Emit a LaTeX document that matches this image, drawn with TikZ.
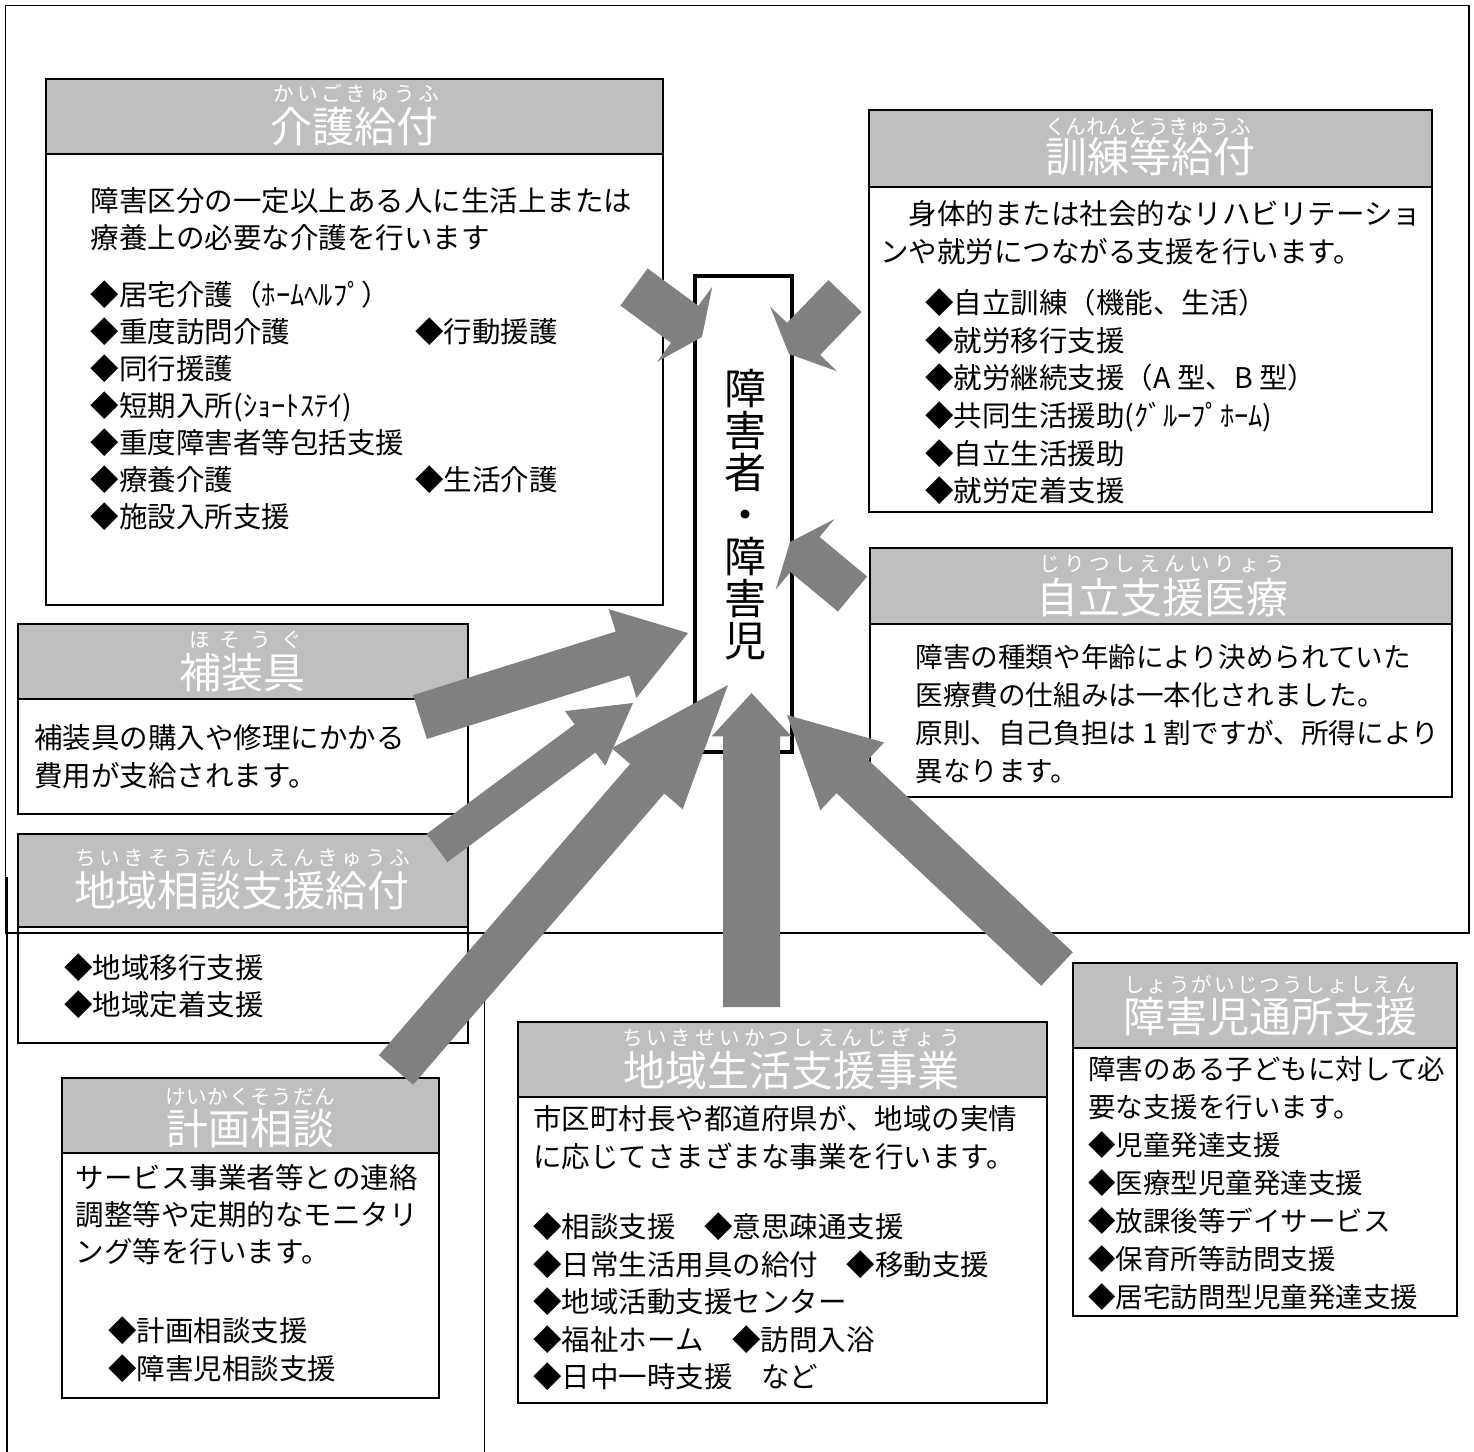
\documentclass[tikz,border=0pt]{standalone}
\usepackage{fontspec}
\setmainfont{Noto Sans CJK JP}
\usetikzlibrary{calc}
\definecolor{hdrgray}{RGB}{191,191,191}
\definecolor{arwgray}{RGB}{128,128,128}
\newcommand\rsp{\hfill}
\newcommand\zs{\rule[-0.12em]{0pt}{1em}}
% #1 tail coord, #2 tip coord, #3 half shaft width, #4 half head width, #5 head length
\newcommand\blockarrow[5]{%
  \coordinate (ab) at ($(#2)!#5!(#1)$);
  \fill[arwgray] ($(#1)!#3!90:(#2)$) -- ($(ab)!#3!90:(#2)$) -- ($(ab)!#4!90:(#2)$) -- (#2)
    -- ($(ab)!#4!-90:(#2)$) -- ($(ab)!#3!-90:(#2)$) -- ($(#1)!#3!-90:(#2)$) -- cycle;}
\newcommand\infobox[5]{%
  \fill[hdrgray] (#1,#2) rectangle (#3,#4);
  \draw[boxline] (#1,#2) rectangle (#3,#5);
  \draw[boxline] (#1,#4) -- (#3,#4);}
\tikzset{
  frameline/.style={line width=0.75pt, black},
  boxline/.style={line width=1.3pt, black},
  bodytxt/.style={anchor=north west, inner sep=0pt, align=left, font=\fontsize{14.25pt}{#1}\selectfont},
  bodytxt/.default=18.75pt,
  rubytxt/.style={anchor=base, inner sep=0pt, text=white, font=\fontsize{10.3pt}{10.3pt}\selectfont},
  titletxt/.style={anchor=base, inner sep=0pt, text=white, font=\fontsize{21pt}{21pt}\selectfont},
  centerbox/.style={line width=2.25pt, black},
}
\begin{document}
\begin{tikzpicture}[x=0.5pt,y=-0.5pt]
\useasboundingbox (0,0) rectangle (1474,1452);
% frame
\draw[frameline] (5.5,5.5) rectangle (1469,933);
\draw[frameline] (7,877) -- (7,1452);
\draw[frameline] (484.7,933) -- (484.7,1452);
% boxes
\infobox{46}{79}{663}{154}{605}
\infobox{869}{110}{1432}{187}{512}
\infobox{870}{548}{1452}{624}{797}
\infobox{18}{624}{468}{699}{814}
\infobox{18}{834}{468}{927}{1043}
\infobox{62}{1078}{439}{1153}{1398}
\infobox{518}{1022}{1047}{1097}{1403}
\infobox{1073}{963}{1457}{1048}{1316}
% rubies
\node[rubytxt] (r-kaigo) at (356,101.5) {\makebox[83pt]{か\rsp い\rsp ご\rsp き\rsp ゅ\rsp う\rsp ふ}};
\node[rubytxt] (r-kunren) at (1148,134) {\makebox[101.5pt]{く\rsp ん\rsp れ\rsp ん\rsp と\rsp う\rsp き\rsp ゅ\rsp う\rsp ふ}};
\node[rubytxt] (r-jiritsu) at (1162.5,571.5) {\makebox[123pt]{じ\rsp り\rsp つ\rsp し\rsp え\rsp ん\rsp い\rsp り\rsp ょ\rsp う}};
\node[rubytxt] (r-hosougu) at (245.5,647.5) {\makebox[56.5pt]{ほ\rsp そ\rsp う\rsp ぐ}};
\node[rubytxt] (r-soudan) at (243,865.5) {\makebox[167.5pt]{ち\rsp い\rsp き\rsp そ\rsp う\rsp だ\rsp ん\rsp し\rsp え\rsp ん\rsp き\rsp ゅ\rsp う\rsp ふ}};
\node[rubytxt] (r-keikaku) at (250,1104.5) {\makebox[85pt]{け\rsp い\rsp か\rsp く\rsp そ\rsp う\rsp だ\rsp ん}};
\node[rubytxt] (r-seikatsu) at (791,1045.5) {\makebox[169pt]{ち\rsp い\rsp き\rsp せ\rsp い\rsp か\rsp つ\rsp し\rsp え\rsp ん\rsp じ\rsp ぎ\rsp ょ\rsp う}};
\node[rubytxt] (r-jidou) at (1270,992.5) {\makebox[146pt]{し\rsp ょ\rsp う\rsp が\rsp い\rsp じ\rsp つ\rsp う\rsp し\rsp ょ\rsp し\rsp え\rsp ん}};
% titles
\node[titletxt] (t-kaigo) at (354.5,142) {介護給付};
\node[titletxt] (t-kunren) at (1150,172) {訓練等給付};
\node[titletxt] (t-jiritsu) at (1162,613) {自立支援医療};
\node[titletxt] (t-hosougu) at (242,688) {補装具};
\node[titletxt] (t-soudan) at (242,906) {地域相談支援給付};
\node[titletxt] (t-keikaku) at (250,1144) {計画相談};
\node[titletxt] (t-seikatsu) at (791,1086) {地域生活支援事業};
\node[titletxt] (t-jidou) at (1270,1032) {障害児通所支援};
% body texts
\node[bodytxt] (kaigo-desc) at (90.5,185.75) {\zs 障害区分の一定以上ある人に生活上または\\療養上の必要な介護を行います};
\node[bodytxt=18.5pt] (kaigo-list) at (90.5,280.35) {\zs ◆居宅介護（ﾎｰﾑﾍﾙﾌﾟ）\\\makebox[162.25pt][l]{◆重度訪問介護}◆行動援護\\◆同行援護\\◆短期入所(ｼｮｰﾄｽﾃｲ)\\◆重度障害者等包括支援\\\makebox[162.25pt][l]{◆療養介護}◆生活介護\\◆施設入所支援};
\node[bodytxt=19pt] (kunren-desc) at (880,199.25) {\zs 　身体的または社会的なリハビリテーショ\\ンや就労につながる支援を行います。};
\node[bodytxt=18.8pt] (kunren-list) at (925,288.25) {\zs ◆自立訓練（機能、生活）\\◆就労移行支援\\◆就労継続支援（A 型、B 型）\\◆共同生活援助(ｸﾞﾙｰﾌﾟﾎｰﾑ)\\◆自立生活援助\\◆就労定着支援};
\node[bodytxt, font=\fontsize{13.8pt}{18.9pt}\selectfont] (jiritsu-desc) at (915,643.2) {\zs 障害の種類や年齢により決められていた\\医療費の仕組みは一本化されました。\\原則、自己負担は 1 割ですが、所得により\\異なります。};
\node[bodytxt=19pt] (hosougu-desc) at (34,722.75) {\zs 補装具の購入や修理にかかる\\費用が支給されます。};
\node[bodytxt=18.5pt] (soudan-list) at (64,952.75) {\zs ◆地域移行支援\\◆地域定着支援};
\node[bodytxt=18.5pt] (keikaku-desc) at (75.5,1162.75) {\zs サービス事業者等との連絡\\調整等や定期的なモニタリ\\ング等を行います。};
\node[bodytxt=19pt] (keikaku-list) at (107.6,1315.75) {\zs ◆計画相談支援\\◆障害児相談支援};
\node[bodytxt=19.25pt] (seikatsu-desc) at (533,1103.75) {\zs 市区町村長や都道府県が、地域の実情\\に応じてさまざまな事業を行います。};
\node[bodytxt=18.75pt] (seikatsu-list) at (533,1212.25) {\zs ◆相談支援　◆意思疎通支援\\◆日常生活用具の給付　◆移動支援\\◆地域活動支援センター\\◆福祉ホーム　◆訪問入浴\\◆日中一時支援　など};
\node[bodytxt, font=\fontsize{13.75pt}{19pt}\selectfont] (jidou-desc) at (1088,1055.25) {\zs 障害のある子どもに対して必\\要な支援を行います。\\◆児童発達支援\\◆医療型児童発達支援\\◆放課後等デイサービス\\◆保育所等訪問支援\\◆居宅訪問型児童発達支援};
% centre box
\draw[centerbox] (695,276) rectangle (792,752);
\node[inner sep=0pt, align=center, font=\fontsize{21pt}{21pt}\selectfont] (who) at (745,515) {障\\害\\者\\・\\障\\害\\児};
% arrow end points
\coordinate (a1s) at (634,287);   \coordinate (a1e) at (702,337);
\coordinate (a2s) at (845,296);   \coordinate (a2e) at (789,354);
\coordinate (a3s) at (852.5,594); \coordinate (a3e) at (790,542);
\coordinate (a4s) at (420,717);   \coordinate (a4e) at (688,633);
\coordinate (a5s) at (437,848);   \coordinate (a5e) at (633,703);
\coordinate (a6s) at (396,1070);  \coordinate (a6e) at (728,685);
\coordinate (a7s) at (751.6,1007); \coordinate (a7e) at (751.6,693);
\coordinate (a8s) at (1057,969);  \coordinate (a8e) at (787,715);
% arrows
\blockarrow{a1s}{a1e}{11.5pt}{23.25pt}{10.75pt}
\blockarrow{a2s}{a2e}{11.5pt}{23.25pt}{10.5pt}
\blockarrow{a3s}{a3e}{11.4pt}{23pt}{9.75pt}
\blockarrow{a4s}{a4e}{11.5pt}{23.25pt}{34.3pt}
\blockarrow{a5s}{a5e}{8.75pt}{17pt}{29.8pt}
\blockarrow{a6s}{a6e}{11.3pt}{23.4pt}{61.85pt}
\blockarrow{a7s}{a7e}{14.25pt}{20pt}{21.7pt}
\blockarrow{a8s}{a8e}{11.5pt}{23.25pt}{44.8pt}
\end{tikzpicture}
\end{document}
